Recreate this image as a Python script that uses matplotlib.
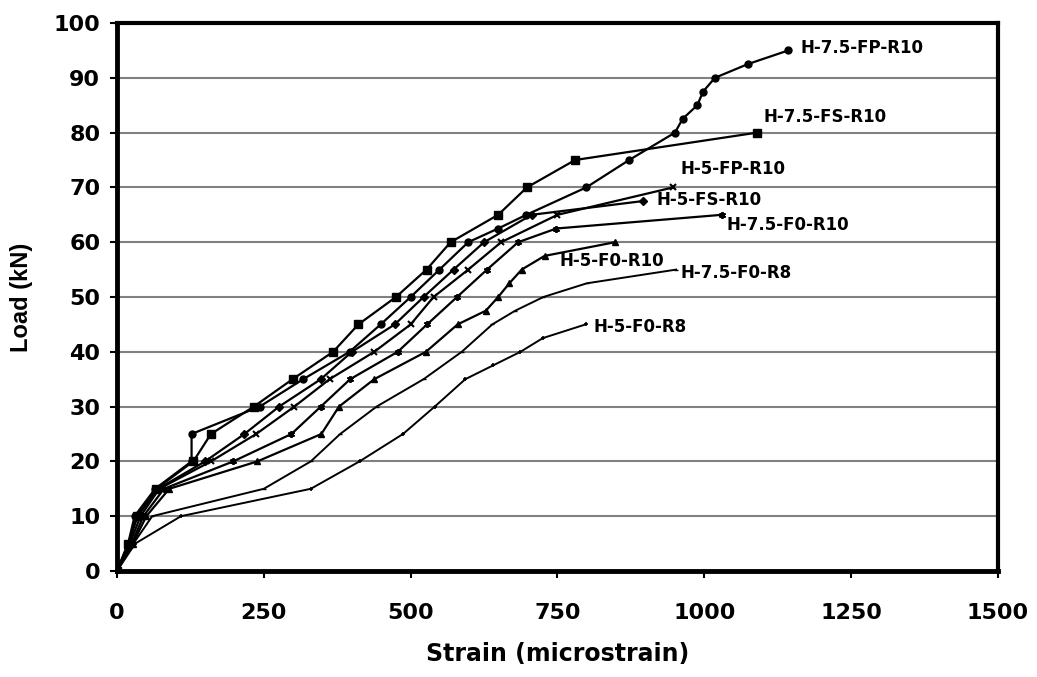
import matplotlib
matplotlib.use("Agg")
import matplotlib.pyplot as plt

plt.rcParams['font.family'] = ['DejaVu Sans']
plt.rcParams['font.weight'] = 'bold'

# load (kN) vs strain (microstrain), one pair of lists per specimen
load_75_fp_r10 = [0, 5, 10, 15, 20, 25, 30, 35, 40, 45, 50, 55, 60, 62.5, 65, 70, 75, 80, 82.5, 85, 87.5, 90, 92.5, 95]
strain_75_fp_r10 = [0, 19, 30, 65, 127, 127, 243, 317, 396, 449, 500, 549, 598, 649, 697, 799, 872, 950, 963, 988, 998, 1018, 1074, 1143]

load_75_fs_r10 = [0, 5, 10, 15, 20, 25, 30, 35, 40, 45, 50, 55, 60, 65, 70, 75, 80]
strain_75_fs_r10 = [0, 19, 34, 67, 130, 160, 233, 299, 368, 411, 475, 527, 568, 649, 698, 780, 1090]

load_5_fp_r10 = [0, 5, 10, 15, 20, 25, 30, 35, 40, 45, 50, 55, 60, 65, 70]
strain_5_fp_r10 = [0, 22, 40, 72, 160, 237, 302, 362, 438, 500, 539, 598, 654, 750, 947]

load_5_fs_r10 = [0, 5, 10, 15, 20, 25, 30, 35, 40, 45, 50, 55, 60, 65, 67.5]
strain_5_fs_r10 = [0, 20, 35, 70, 150, 217, 276, 347, 400, 473, 522, 573, 625, 706, 895]

load_75_f0_r10 = [0, 5, 10, 15, 20, 25, 30, 35, 40, 45, 50, 55, 60, 62.5, 65]
strain_75_f0_r10 = [0, 25, 45, 80, 198, 297, 347, 397, 478, 528, 579, 630, 683, 748, 1030]

load_5_f0_r10 = [0, 5, 10, 15, 20, 25, 30, 35, 40, 45, 47.5, 50, 52.5, 55, 57.5, 60]
strain_5_f0_r10 = [0, 27, 50, 89, 239, 348, 378, 438, 526, 580, 628, 649, 668, 689, 728, 848]

load_75_f0_r8 = [0, 5, 10, 15, 20, 25, 30, 35, 40, 45, 47.5, 50, 52.5, 55]
strain_75_f0_r8 = [0, 28, 60, 250, 330, 380, 442, 522, 587, 639, 678, 726, 800, 952]

load_5_f0_r8 = [0, 5, 10, 15, 20, 25, 30, 35, 37.5, 40, 42.5, 45]
strain_5_f0_r8 = [0, 31, 109, 330, 413, 487, 541, 593, 640, 687, 725, 798]

names = ['H-7.5-FP-R10', 'H-7.5-FS-R10', 'H-5-FP-R10', 'H-5-FS-R10',
         'H-7.5-F0-R10', 'H-5-F0-R10', 'H-7.5-F0-R8', 'H-5-F0-R8']
# where each name is written (strain, load)
label_x = [1163, 1101, 959, 918, 1038, 754, 959, 812]
label_y = [95.4, 82.8, 73.4, 67.7, 63.1, 56.6, 54.4, 44.6]

fig = plt.figure(figsize=(10.37, 6.77), dpi=100)
ax = fig.add_axes([0.1128, 0.1566, 0.8496, 0.8094])

ax.plot(strain_75_fp_r10, load_75_fp_r10, color='black', lw=1.6, marker='o', ms=5)
ax.plot(strain_75_fs_r10, load_75_fs_r10, color='black', lw=1.6, marker='s', ms=5.5)
ax.plot(strain_5_fp_r10, load_5_fp_r10, color='black', lw=1.6, marker='x', ms=4.5, mew=1.5)
ax.plot(strain_5_fs_r10, load_5_fs_r10, color='black', lw=1.6, marker='D', ms=4)
ax.plot(strain_75_f0_r10, load_75_f0_r10, color='black', lw=1.6, marker=(6, 2, 0), ms=5, mew=1.3)
ax.plot(strain_5_f0_r10, load_5_f0_r10, color='black', lw=1.6, marker='^', ms=5)
ax.plot(strain_75_f0_r8, load_75_f0_r8, color='black', lw=1.4, marker='_', ms=3)
ax.plot(strain_5_f0_r8, load_5_f0_r8, color='black', lw=1.4, marker='+', ms=3.5, mew=1.2)

for nm, lx, ly in zip(names, label_x, label_y):
    ax.text(lx, ly, nm, fontsize=12, fontweight='bold', va='center', ha='left')

ax.set_xlim(0, 1500)
ax.set_ylim(0, 100)
ax.set_xticks([0, 250, 500, 750, 1000, 1250, 1500])
ax.set_yticks(range(0, 101, 10))
ax.yaxis.grid(True, color='#808080', lw=1.5)
ax.set_axisbelow(True)

for side in ['left', 'bottom']:
    ax.spines[side].set_linewidth(3.5)
for side in ['top', 'right']:
    ax.spines[side].set_linewidth(3)

ax.tick_params(axis='both', direction='out', length=5, width=1.5, labelsize=16)
ax.tick_params(axis='x', pad=18)
ax.tick_params(axis='y', pad=7)
for lab in ax.get_xticklabels() + ax.get_yticklabels():
    lab.set_fontweight('bold')

ax.set_xlabel('Strain (microstrain)', fontsize=17, fontweight='bold', labelpad=14)
ax.set_ylabel('Load (kN)', fontsize=17, fontweight='bold', labelpad=15,
              family='Liberation Sans')

fig.savefig('out.png', dpi=100)
